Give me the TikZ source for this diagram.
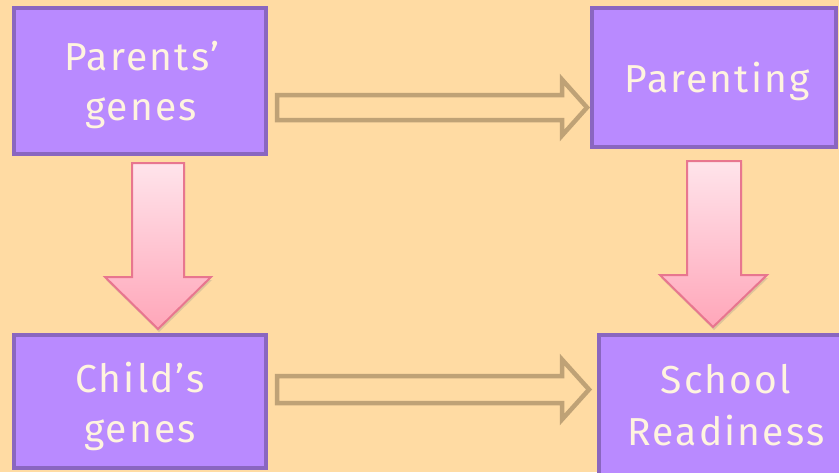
\documentclass[tikz,border=0pt]{standalone}
\usepackage{fontspec}
\setmainfont{Fira Sans}[LetterSpace=5.5]
\usetikzlibrary{shadows}
\definecolor{bgc}{HTML}{FFDBA3}
\definecolor{boxfill}{HTML}{B98AFF}
\definecolor{boxline}{HTML}{8A66C0}
\definecolor{txtc}{HTML}{FFF4DF}
\definecolor{hollowc}{HTML}{BFA276}
\definecolor{pinktop}{HTML}{FFE4EB}
\definecolor{pinkbot}{HTML}{FFA6B9}
\definecolor{pinkline}{HTML}{E8768F}
\tikzset{
  box/.style={rectangle, fill=boxfill, draw=boxline, line width=4pt, inner sep=0pt},
  txt/.style={text=txtc, font=\fontsize{39}{50}\selectfont, inner sep=0pt, anchor=base},
  hollow/.style={draw=hollowc, line width=4.5pt, line join=miter},
  pinkarrow/.style={draw=pinkline, line width=2pt, top color=pinktop, bottom color=pinkbot,
     drop shadow={opacity=0.25, shadow xshift=1pt, shadow yshift=-3pt}}
}
\begin{document}
\begin{tikzpicture}[x=1pt,y=-1pt]
\fill[bgc] (0,0) rectangle (839,472);
\useasboundingbox (0,0) rectangle (839,472);

% boxes
\node[box, minimum width=252pt, minimum height=146pt] (pg) at (140,80.5) {};
\node[box, minimum width=244pt, minimum height=139pt] (par) at (714,77.5) {};
\node[box, minimum width=252pt, minimum height=133pt] (cg) at (140,401.5) {};
\node[box, minimum width=244pt, minimum height=140pt] (sr) at (721,405) {};

% texts
\node[txt] (pg1) at (142,70) {Parents’};
\node[txt] (pg2) at (141,120) {genes};
\node[txt] (par1) at (717,92) {Parenting};
\node[txt] (cg1) at (140,392) {Child’s};
\node[txt] (cg2) at (140,442) {genes};
\node[txt] (sr1) at (726,393) {School};
\node[txt] (sr2) at (726,445) {Readiness};

% hollow arrows
\draw[hollow] (277,95) -- (562,95) -- (562,79.5) -- (587,107.5) -- (562,135.5) -- (562,120) -- (277,120) -- cycle;
\draw[hollow] (277,376) -- (562,376) -- (562,359.5) -- (589,389.5) -- (562,419.5) -- (562,403) -- (277,403) -- cycle;

% pink arrows
\path[pinkarrow] (132,163) -- (184,163) -- (184,277) -- (211,277) -- (158,329) -- (105,277) -- (132,277) -- cycle;
\path[pinkarrow] (687,161) -- (741,161) -- (741,275) -- (767,275) -- (713,327) -- (660,275) -- (687,275) -- cycle;
\end{tikzpicture}
\end{document}
